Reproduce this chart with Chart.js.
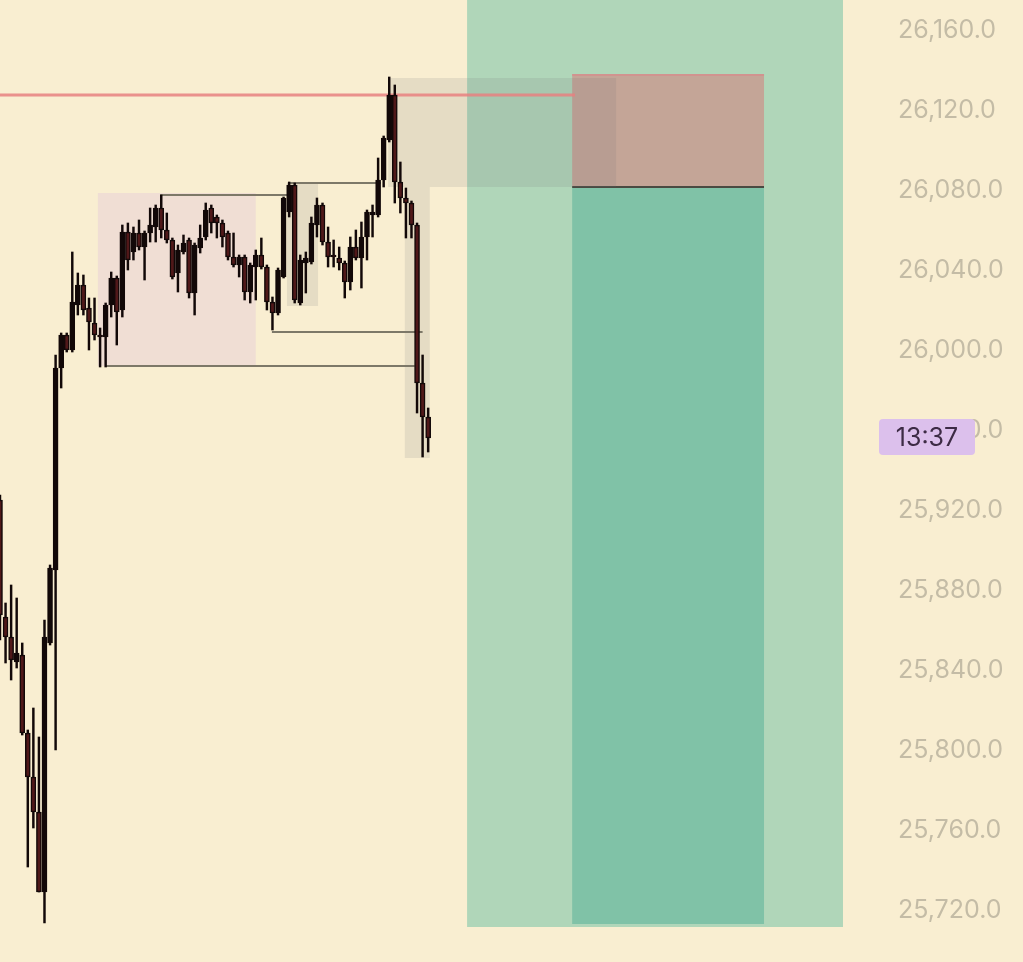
<!DOCTYPE html>
<html>
<head>
<meta charset="utf-8">
<script src="https://cdn.jsdelivr.net/npm/chart.js@4.4.1/dist/chart.umd.min.js"></script>
<style>
    html, body { margin: 0; padding: 0; background: #f9eed1; }
    #wrap { position: relative; width: 1023px; height: 962px; }
</style>
</head>
<body>
<div id="wrap"><canvas id="price-chart"></canvas></div>
<script>
// Candles, one per bar slot
const opens = [
    25925, 25866.5, 25856.5, 25844, 25847.5, 25808.5, 25786.5, 25769, 25729, 25853.5,
    25890, 25991, 26007.5, 26000, 26022.5, 26032.5, 26021, 26013.5, 26007.5, 26006.5,
    26022.5, 26036, 26020, 26059, 26049, 26058.5, 26051.5, 26058.5, 26061.5, 26071,
    26060, 26055, 26038.5, 26049, 26055, 26028.5, 26051, 26056.5, 26071, 26066.5,
    26063.5, 26058.5, 26046.5, 26042.5, 26046.5, 26029, 26041.5, 26047.5, 26041.5, 26024,
    26018.5, 26036.5, 26069, 26082.5, 26023.5, 26043.5, 26044, 26062.5, 26072.5, 26054,
    26047.5, 26046, 26043.5, 26034, 26051.5, 26046, 26056.5, 26067.5, 26067.5, 26085,
    26105, 26127.5, 26084, 26076, 26073.5, 26062.5, 25983.5, 25966.5
];
const highs = [
    25927.5, 25873.5, 25882.5, 25876, 25853.5, 25810, 25821, 25806.5, 25865, 25892.5,
    25997.5, 26008.5, 26008.5, 26049, 26038.5, 26037.5, 26026, 26026, 26011, 26023.5,
    26039, 26037, 26062.5, 26063.5, 26061.5, 26065, 26059.5, 26071, 26072.5, 26077.5,
    26068.5, 26056, 26052.5, 26057.5, 26056, 26053.5, 26062.5, 26073.5, 26072.5, 26067.5,
    26065, 26059.5, 26058.5, 26047.5, 26047.5, 26043.5, 26050, 26056, 26042.5, 26026.5,
    26041, 26076.5, 26084, 26083.5, 26047.5, 26049, 26066.5, 26076, 26073.5, 26061.5,
    26055, 26051.5, 26044.5, 26056.5, 26060, 26064, 26070, 26072.5, 26096, 26107,
    26136.5, 26132.5, 26094, 26081, 26074.5, 26063.5, 25997.5, 25971
];
const lows = [
    25855, 25843.5, 25835, 25841, 25807.5, 25741.5, 25761, 25729, 25713.5, 25852.5,
    25800, 25981, 25999, 25999, 26017.5, 26017.5, 26000, 26005, 25991.5, 25991.5,
    26016.5, 26002.5, 26016.5, 26040, 26045, 26050, 26035, 26054, 26054, 26056,
    26053.5, 26035.5, 26029, 26048, 26026, 26017.5, 26048.5, 26055, 26058.5, 26056,
    26051.5, 26045, 26041.5, 26036.5, 26025, 26023.5, 26025, 26040.5, 26020, 26010,
    26017.5, 26036, 26066.5, 26023.5, 26022.5, 26028.5, 26043, 26056.5, 26052.5, 26041.5,
    26041.5, 26040, 26026, 26030, 26045, 26031, 26045, 26056.5, 26066.5, 26081.5,
    26104, 26073.5, 26068.5, 26056, 26056, 25968.5, 25946.5, 25949
];
const closes = [
    25867.5, 25856.5, 25845, 25848.5, 25808.5, 25786.5, 25769, 25729, 25856.5, 25891,
    25991, 26007.5, 26000, 26024, 26032.5, 26020, 26014, 26007.5, 26006.5, 26022.5,
    26036, 26019, 26059, 26045, 26058.5, 26051.5, 26058.5, 26062.5, 26071, 26060,
    26055, 26036.5, 26050, 26053.5, 26028.5, 26052.5, 26056, 26070, 26063.5, 26063.5,
    26056.5, 26046.5, 26042.5, 26046.5, 26029, 26042.5, 26047.5, 26041.5, 26024, 26018.5,
    26040, 26076, 26082.5, 26025, 26045, 26046, 26063.5, 26072.5, 26054, 26046.5,
    26046.5, 26043.5, 26034, 26051.5, 26046, 26056.5, 26069, 26069, 26085, 26106,
    26127.5, 26084, 26076, 26073.5, 26062.5, 25983.5, 25966.5, 25956
];

// Bar slots on the time axis (candles + empty space to the right)
const slotCount = 158;
const slots = Array.from({ length: slotCount }, (_, i) => String(i));

// Price axis
const priceMin = 25694;
const priceMax = 26175;
const priceTicks = [25720, 25760, 25800, 25840, 25880, 25920, 25960, 26000, 26040, 26080, 26120, 26160];
const countdownText = '13:37';

// Drawn zones: [fromBar, toBar, topPrice, bottomPrice]
const longZone = [84, 151.6, 26200, 25711.5];
const targetZone = [102.9, 137.4, 26081.5, 25713];
const stopZone = [102.9, 137.4, 26138, 26081.5];
const rangeBox = [17.6, 46, 26078.5, 25992];
const shadeBoxes = [
    [51.6, 57.2, 26083.5, 26022],
    [72.8, 77.3, 26081.5, 25946],
    [69.8, 110.8, 26136, 26081.5]
];
// Level lines: [fromBar, toBar, price]
const levelLines = [
    [28.8, 52, 26077.5],
    [52, 68.5, 26083.5],
    [48.9, 76, 26009],
    [18.9, 74.6, 25992]
];
const resistanceLine = [0, 103.4, 26127.5];

const bodyColors = opens.map((o, i) => closes[i] >= o ? '#120808' : '#501819');

function boxPx(chart, b) {
    const x = chart.scales.x, y = chart.scales.y;
    const x1 = x.getPixelForValue(b[0]), x2 = x.getPixelForValue(b[1]);
    const y1 = y.getPixelForValue(b[2]), y2 = y.getPixelForValue(b[3]);
    return [x1, y1, x2 - x1, y2 - y1];
}

const zonesPlugin = {
    id: 'zones',
    beforeDatasetsDraw(chart) {
        const ctx = chart.ctx;
        const area = chart.chartArea;
        const x = chart.scales.x, y = chart.scales.y;
        ctx.save();
        ctx.beginPath();
        ctx.rect(area.left, area.top, area.right - area.left, area.bottom - area.top);
        ctx.clip();

        ctx.fillStyle = '#b0d6b9';
        ctx.fillRect(...boxPx(chart, longZone));
        ctx.fillStyle = '#80c2a7';
        ctx.fillRect(...boxPx(chart, targetZone));
        ctx.fillStyle = '#c4a597';
        ctx.fillRect(...boxPx(chart, stopZone));

        // stop zone edges
        const s = boxPx(chart, stopZone);
        ctx.fillStyle = 'rgba(215, 140, 140, 0.7)';
        ctx.fillRect(s[0], s[1], s[2], 2);
        ctx.fillStyle = '#4a4a42';
        ctx.fillRect(s[0], s[1] + s[3] - 1, s[2], 2);

        ctx.fillStyle = '#f0ded4';
        ctx.fillRect(...boxPx(chart, rangeBox));

        ctx.fillStyle = 'rgba(110, 115, 120, 0.14)';
        shadeBoxes.forEach(b => ctx.fillRect(...boxPx(chart, b)));

        ctx.strokeStyle = '#7d7868';
        ctx.lineWidth = 2;
        levelLines.forEach(l => {
            const py = Math.round(y.getPixelForValue(l[2]));
            ctx.beginPath();
            ctx.moveTo(x.getPixelForValue(l[0]), py);
            ctx.lineTo(x.getPixelForValue(l[1]), py);
            ctx.stroke();
        });

        ctx.strokeStyle = 'rgba(232, 128, 128, 0.85)';
        ctx.lineWidth = 3;
        const ry = y.getPixelForValue(resistanceLine[2]);
        ctx.beginPath();
        ctx.moveTo(x.getPixelForValue(resistanceLine[0]), ry);
        ctx.lineTo(x.getPixelForValue(resistanceLine[1]), ry);
        ctx.stroke();
        ctx.restore();
    },
    afterDraw(chart) {
        // countdown tag on the price axis at the last close
        const ctx = chart.ctx;
        const py = chart.scales.y.getPixelForValue(closes[closes.length - 1]);
        const left = chart.chartArea.right + 6;
        ctx.save();
        ctx.fillStyle = '#dcc0ec';
        ctx.beginPath();
        ctx.roundRect(left, py - 19, 96, 36, 4);
        ctx.fill();
        ctx.fillStyle = '#3d2b45';
        ctx.font = '25px Inter';
        ctx.textAlign = 'center';
        ctx.textBaseline = 'middle';
        ctx.fillText(countdownText, left + 48, py);
        ctx.restore();
    }
};

const priceChart = new Chart(document.getElementById('price-chart'), {
    type: 'bar',
    data: {
        labels: slots,
        datasets: [
            {
                label: 'Body',
                data: opens.map((o, i) => [o, closes[i]]),
                backgroundColor: bodyColors,
                borderColor: '#120808',
                borderWidth: 1.5,
                borderSkipped: false,
                barThickness: 5,
                minBarLength: 2,
                grouped: false,
                order: 0
            },
            {
                label: 'Wick',
                data: lows.map((l, i) => [l, highs[i]]),
                backgroundColor: '#120808',
                borderWidth: 0,
                barThickness: 1.8,
                grouped: false,
                order: 1
            }
        ]
    },
    options: {
        responsive: true,
        maintainAspectRatio: false,
        animation: false,
        layout: { padding: 0 },
        plugins: {
            legend: { display: false },
            tooltip: { enabled: false }
        },
        scales: {
            x: {
                type: 'category',
                display: false,
                offset: false,
                grid: { display: false, offset: false }
            },
            y: {
                position: 'right',
                min: priceMin,
                max: priceMax,
                grid: { display: false, drawTicks: false },
                border: { display: false },
                afterBuildTicks: function(scale) {
                    scale.ticks = priceTicks.map(v => ({ value: v }));
                },
                ticks: {
                    autoSkip: false,
                    padding: 25,
                    color: '#c4bca6',
                    font: { family: 'Inter', size: 25 },
                    callback: function(value) {
                        return value.toLocaleString('en-US', {
                            minimumFractionDigits: 1,
                            maximumFractionDigits: 1
                        });
                    }
                },
                afterFit: function(scale) {
                    scale.width = 150;
                    scale.paddingTop = 0;
                    scale.paddingBottom = 0;
                }
            }
        }
    },
    plugins: [zonesPlugin]
});
</script>
</body>
</html>
